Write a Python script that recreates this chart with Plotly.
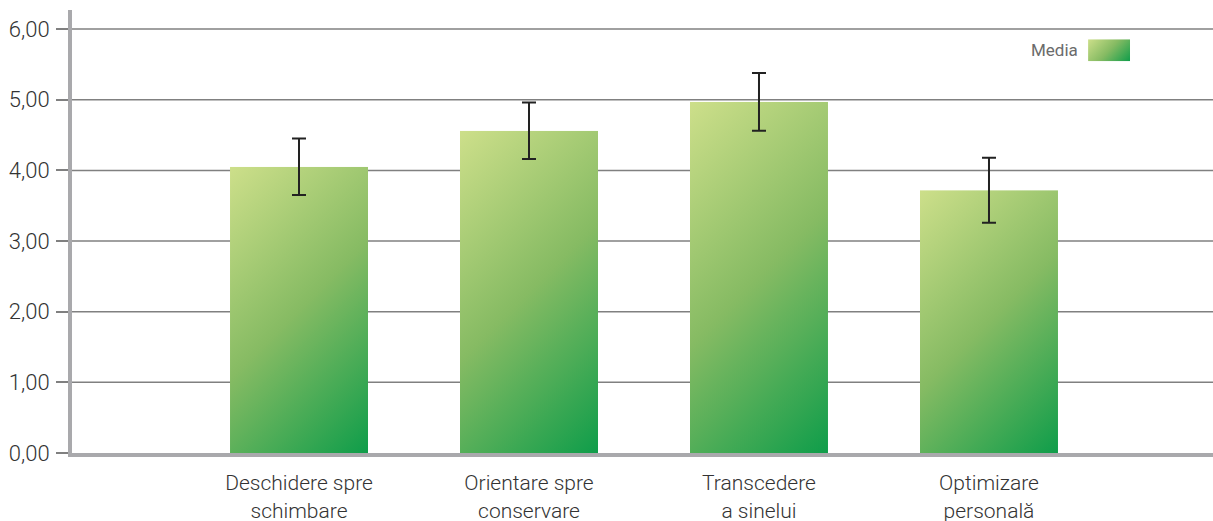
import plotly.graph_objects as go
import base64

categories = ["Deschidere spre<br>schimbare", "Orientare spre<br>conservare", "Transcedere<br>a sinelui", "Optimizare<br>personală"]
means = [4.05, 4.56, 4.97, 3.72]
errors = [0.40, 0.40, 0.41, 0.46]
y_ticks = [0, 1, 2, 3, 4, 5, 6]
legend_label = "Media"

x_pos = [i + 1 for i in range(len(categories))]
BAR_W = 0.6


def grad_svg(w, h):
    s = (w + h) / 2.0
    svg = (
        "<svg xmlns='http://www.w3.org/2000/svg' width='%d' height='%d' viewBox='0 0 %d %d' preserveAspectRatio='none'>"
        "<defs><linearGradient id='g' gradientUnits='userSpaceOnUse' x1='0' y1='0' x2='%.1f' y2='%.1f'>"
        "<stop offset='0' stop-color='#cddf8a'/>"
        "<stop offset='0.5' stop-color='#86bb63'/>"
        "<stop offset='1' stop-color='#0f9d4a'/>"
        "</linearGradient></defs><rect x='0' y='0' width='%d' height='%d' fill='url(#g)'/></svg>"
    ) % (w, h, w, h, s, s, w, h)
    return "data:image/svg+xml;base64," + base64.b64encode(svg.encode()).decode()


fig = go.Figure()

fig.add_trace(go.Bar(
    x=x_pos, y=means, width=BAR_W,
    marker=dict(color="rgba(0,0,0,0)", line=dict(width=0)),
    error_y=dict(type="data", array=errors, visible=True, color="#222222", thickness=2, width=7),
    customdata=[c.replace("<br>", " ") for c in categories],
    hovertemplate="%{customdata}: %{y:.2f}<extra></extra>",
    showlegend=False,
))

images = []
for xp, m in zip(x_pos, means):
    w = 138
    h = max(int(round(m * 70.7)), 1)
    images.append(dict(
        source=grad_svg(w, h), xref="x", yref="y",
        x=xp - BAR_W / 2, y=m, sizex=BAR_W, sizey=m,
        xanchor="left", yanchor="top", sizing="stretch", layer="below",
    ))

# legend swatch
images.append(dict(
    source=grad_svg(42, 21), xref="paper", yref="paper",
    x=0.8905, y=0.934, sizex=0.0368, sizey=0.0497,
    xanchor="left", yanchor="top", sizing="stretch", layer="above",
))

shapes = []
for t in y_ticks[1:]:
    shapes.append(dict(type="line", xref="paper", yref="y", x0=0, x1=1, y0=t, y1=t,
                       line=dict(color="#808080", width=1.5), layer="below"))

fig.update_layout(
    width=1213, height=521,
    margin=dict(l=72, r=0, t=10, b=68, autoexpand=False),
    paper_bgcolor="white", plot_bgcolor="white",
    separators=", ",
    font=dict(family="Roboto", color="#333333"),
    images=images, shapes=shapes,
    showlegend=False,
    annotations=[dict(text=legend_label, xref="paper", yref="paper", x=0.8834, y=0.9086,
                      xanchor="right", yanchor="middle", showarrow=False,
                      font=dict(family="Roboto", size=17, color="#6b6b6b"))],
)

fig.update_xaxes(
    range=[0.013, 4.974], tickvals=x_pos, ticktext=categories,
    showgrid=False, zeroline=False, automargin=False,
    showline=True, linecolor="#a9a9ac", linewidth=4,
    ticks="outside", ticklen=8, tickcolor="rgba(0,0,0,0)",
    tickfont=dict(family="Roboto", size=21, color="#333333", weight=300),
)
fig.update_yaxes(
    range=[0, 6.27], tickvals=y_ticks, tickformat=".2f",
    showgrid=False, zeroline=False, automargin=False,
    showline=True, linecolor="#a9a9ac", linewidth=4,
    ticks="outside", ticklen=12, tickcolor="#808080", tickwidth=1.5,
    ticklabelstandoff=2,
    tickfont=dict(family="Roboto", size=22, color="#333333", weight=300),
)

fig.write_html(
    "out.html",
    config={"displayModeBar": False},
    post_script="document.body.style.margin='0';document.body.style.overflow='hidden';",
)
